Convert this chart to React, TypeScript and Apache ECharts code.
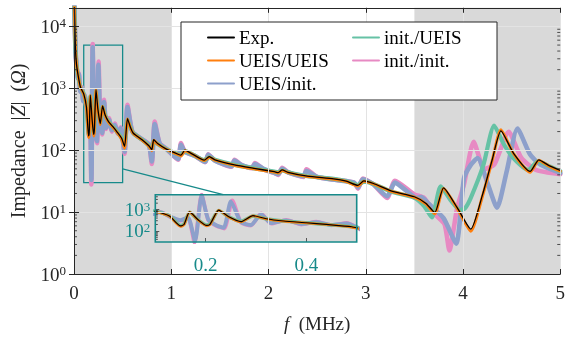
import React, { useEffect, useRef } from "react";
import * as echarts from "echarts";

// Impedance magnitude |Z| (Ohm) against frequency f (MHz), as [f, |Z|] pairs.
const expData: number[][] = [
  [0.003, 24000], [0.008, 11000], [0.015, 4300], [0.025, 2500], [0.04, 1700], [0.066, 1050],
  [0.1, 815], [0.128, 500], [0.15, 170], [0.157, 200], [0.168, 775], [0.185, 330], [0.202, 180],
  [0.209, 210], [0.226, 950], [0.245, 470], [0.27, 270], [0.294, 520], [0.32, 370], [0.355, 290],
  [0.4, 240], [0.44, 200], [0.49, 156], [0.52, 115], [0.55, 325], [0.58, 235], [0.61, 188],
  [0.7, 148], [0.77, 118], [0.8, 102], [0.82, 148], [0.86, 128], [0.95, 104], [1.07, 86],
  [1.1, 83], [1.14, 100], [1.2, 90], [1.34, 69], [1.39, 79], [1.45, 70], [1.65, 58], [1.85, 51],
  [2.06, 45], [2.1, 43.5], [2.14, 48], [2.2, 44], [2.4, 38], [2.67, 34.5], [2.8, 31.6], [2.92, 27],
  [2.98, 32], [3.08, 29], [3.26, 22], [3.5, 17.7], [3.62, 13.8], [3.71, 9.8], [3.8, 24.7],
  [3.94, 11.8], [4.08, 5.3], [4.2, 19], [4.3, 70], [4.39, 205], [4.52, 89], [4.69, 45.5],
  [4.78, 70], [4.88, 57], [5.0, 47],
];

const ueisUeisData: number[][] = [
  [0.003, 24000], [0.008, 11000], [0.015, 4300], [0.025, 2500], [0.04, 1700], [0.066, 1040],
  [0.1, 800], [0.128, 490], [0.15, 160], [0.157, 190], [0.168, 760], [0.185, 320], [0.202, 170],
  [0.209, 200], [0.226, 930], [0.245, 460], [0.27, 260], [0.294, 510], [0.32, 365], [0.355, 285],
  [0.4, 235], [0.44, 198], [0.49, 150], [0.52, 108], [0.55, 320], [0.58, 232], [0.61, 186],
  [0.7, 146], [0.77, 116], [0.8, 98], [0.82, 145], [0.86, 126], [0.95, 103], [1.07, 85],
  [1.1, 81], [1.14, 98], [1.2, 89], [1.34, 68], [1.39, 77], [1.45, 69], [1.65, 57], [1.85, 50],
  [2.06, 44.5], [2.1, 43], [2.14, 47], [2.2, 43.5], [2.4, 37.5], [2.67, 34], [2.8, 31.2],
  [2.92, 26.5], [2.98, 31.5], [3.08, 28.5], [3.26, 21.7], [3.5, 17.4], [3.62, 13.5], [3.71, 9.4],
  [3.8, 24], [3.94, 11.5], [4.08, 4.9], [4.2, 18], [4.3, 68], [4.39, 215], [4.52, 88],
  [4.69, 44], [4.78, 69], [4.88, 56], [5.0, 46],
];

const ueisInitData: number[][] = [
  [0.003, 24000], [0.008, 11000], [0.015, 4300], [0.025, 2400], [0.04, 1450], [0.05, 1700],
  [0.065, 880], [0.08, 1000], [0.095, 620], [0.11, 760], [0.13, 460], [0.15, 320], [0.165, 430],
  [0.179, 33], [0.192, 4600], [0.205, 350], [0.222, 180], [0.236, 140], [0.25, 2400], [0.27, 260],
  [0.29, 190], [0.31, 600], [0.33, 230], [0.36, 310], [0.39, 210], [0.42, 255], [0.45, 190],
  [0.48, 225], [0.52, 95], [0.55, 500], [0.6, 200], [0.7, 150], [0.77, 123], [0.8, 66],
  [0.83, 265], [0.88, 130], [0.95, 105], [1.07, 72], [1.1, 122], [1.14, 95], [1.25, 80],
  [1.35, 65], [1.38, 84], [1.45, 68], [1.62, 55], [1.65, 68], [1.72, 58], [1.83, 52], [1.86, 60],
  [1.95, 50], [2.06, 43], [2.1, 41], [2.14, 50], [2.2, 44], [2.36, 38], [2.39, 46], [2.5, 37],
  [2.7, 33], [2.88, 30], [2.92, 25], [2.97, 34], [3.08, 28], [3.22, 18], [3.3, 30], [3.45, 20],
  [3.52, 17], [3.57, 17.5], [3.65, 13.5], [3.8, 8], [3.93, 3.1], [4.01, 35], [4.08, 58],
  [4.15, 75], [4.25, 30], [4.35, 11.8], [4.45, 46], [4.56, 224], [4.69, 85], [4.8, 58], [5.0, 43],
];

const initUeisData: number[][] = [
  [0.003, 24000], [0.008, 11000], [0.015, 4300], [0.025, 2500], [0.04, 1650], [0.066, 1050],
  [0.1, 820], [0.128, 510], [0.15, 180], [0.157, 210], [0.168, 740], [0.185, 330], [0.202, 190],
  [0.209, 220], [0.226, 900], [0.245, 470], [0.27, 280], [0.294, 500], [0.32, 370], [0.355, 290],
  [0.4, 240], [0.44, 200], [0.49, 158], [0.52, 120], [0.55, 310], [0.58, 235], [0.61, 188],
  [0.7, 148], [0.77, 118], [0.8, 104], [0.82, 140], [0.86, 126], [0.95, 104], [1.07, 86],
  [1.1, 84], [1.14, 97], [1.2, 89], [1.34, 69], [1.39, 77], [1.45, 70], [1.65, 58], [1.85, 51],
  [2.06, 45], [2.1, 44], [2.14, 47], [2.2, 44], [2.4, 38], [2.67, 34.5], [2.8, 31.6], [2.92, 27.5],
  [2.98, 31], [3.08, 28.5], [3.26, 21.5], [3.5, 17], [3.6, 12.5], [3.68, 8.2], [3.77, 26],
  [3.88, 15], [3.97, 10.8], [4.02, 11.5], [4.08, 17], [4.21, 58], [4.32, 251], [4.42, 125],
  [4.52, 74], [4.67, 48], [4.77, 66], [4.9, 54], [5.0, 46],
];

const initInitData: number[][] = [
  [0.003, 24000], [0.008, 11000], [0.015, 4300], [0.025, 2400], [0.04, 1500], [0.05, 1750],
  [0.065, 900], [0.08, 1050], [0.095, 640], [0.11, 780], [0.13, 450], [0.15, 300], [0.165, 420],
  [0.178, 28], [0.192, 5200], [0.205, 330], [0.222, 170], [0.237, 130], [0.253, 2700], [0.27, 250],
  [0.29, 180], [0.31, 650], [0.33, 220], [0.36, 330], [0.39, 200], [0.42, 270], [0.45, 185],
  [0.48, 235], [0.52, 88], [0.55, 540], [0.6, 200], [0.7, 150], [0.77, 125], [0.8, 60],
  [0.83, 290], [0.88, 130], [0.95, 106], [1.07, 70], [1.1, 130], [1.14, 95], [1.25, 80],
  [1.35, 64], [1.38, 86], [1.45, 68], [1.62, 54], [1.65, 70], [1.72, 58], [1.83, 51], [1.86, 62],
  [1.95, 49], [2.06, 43], [2.1, 40], [2.14, 52], [2.2, 44], [2.36, 37], [2.39, 49], [2.5, 37],
  [2.7, 33], [2.88, 30], [2.92, 24], [2.97, 35], [3.08, 28], [3.22, 17], [3.3, 32], [3.5, 19.3],
  [3.6, 17], [3.71, 9.3], [3.81, 6.4], [3.86, 2.4], [3.94, 11.8], [4.01, 28], [4.11, 137],
  [4.22, 50], [4.32, 58], [4.47, 198], [4.6, 75], [4.75, 48], [5.0, 41],
];

// Axis ranges
const fRange = [0, 5];
const zRange = [1, 20000];
const shadedBands = [[0, 1], [3.5, 5]];
const zoomF = [0.1, 0.5];
const zoomZ = [30, 5000];
const insetTickF = [0.2, 0.4];
const insetTickZ = [100, 1000];

const FONT = "'Liberation Serif', 'Times New Roman', serif";
const INK = "#262626";
const TEAL = "#178a8a";
const GRAY = "#d9d9d9";

const seriesDefs = [
  { name: "init./init.", data: initInitData, color: "#e78ac3", width: 4.6 },
  { name: "UEIS/init.", data: ueisInitData, color: "#8da0cb", width: 4.6 },
  { name: "init./UEIS", data: initUeisData, color: "#66c2a5", width: 4.2 },
  { name: "UEIS/UEIS", data: ueisUeisData, color: "#ff7f0e", width: 3 },
  { name: "Exp.", data: expData, color: "#000000", width: 1.3 },
];

function minorValues(lo: number, hi: number): number[] {
  const out: number[] = [];
  for (let k = -1; k <= 5; k++) {
    for (let m = 2; m <= 9; m++) {
      const v = m * Math.pow(10, k);
      if (v > lo && v < hi) out.push(v);
    }
  }
  return out;
}

function powerLabel(v: number): string {
  const e = Math.log10(v);
  const r = Math.round(e);
  if (Math.abs(e - r) > 1e-6) return "";
  return `{b|10}{s|${r}}`;
}

function powerRich(color: string) {
  return {
    b: { fontFamily: FONT, fontSize: 19, color, lineHeight: 20 },
    s: { fontFamily: FONT, fontSize: 13, color, verticalAlign: "top", lineHeight: 12 },
  };
}

function tickRenderer(sides: "both" | "left", len: number, fLeft: number, fRight: number) {
  return (params: any, api: any) => {
    const v = api.value(1);
    const pl = api.coord([fLeft, v]);
    const children: any[] = [
      {
        type: "line",
        shape: { x1: pl[0], y1: pl[1], x2: pl[0] + len, y2: pl[1] },
        style: { stroke: INK, lineWidth: 0.8 },
      },
    ];
    if (sides === "both") {
      const pr = api.coord([fRight, v]);
      children.push({
        type: "line",
        shape: { x1: pr[0] - len, y1: pr[1], x2: pr[0], y2: pr[1] },
        style: { stroke: INK, lineWidth: 0.8 },
      });
    }
    return { type: "group", children };
  };
}

export default function App() {
  const ref = useRef<HTMLDivElement>(null);

  useEffect(() => {
    if (!ref.current) return;
    const chart = echarts.init(ref.current, null, { renderer: "svg" });

    const mainSeries = seriesDefs.map((s) => ({
      name: s.name,
      type: "line",
      data: s.data,
      xAxisIndex: 0,
      yAxisIndex: 0,
      showSymbol: false,
      symbol: "none",
      smooth: 0.2,
      z: 2,
      lineStyle: { color: s.color, width: s.width, cap: "round", join: "round" },
      itemStyle: { color: s.color },
      emphasis: { disabled: true },
    }));
    const insetSeries = seriesDefs.map((s) => ({
      name: s.name,
      type: "line",
      data: s.data,
      xAxisIndex: 2,
      yAxisIndex: 2,
      showSymbol: false,
      symbol: "none",
      smooth: 0.2,
      z: 2,
      lineStyle: { color: s.color, width: Math.max(1.2, s.width * 0.85), cap: "round", join: "round" },
      itemStyle: { color: s.color },
      emphasis: { disabled: true },
    }));

    const axisText = { fontFamily: FONT, fontSize: 19, color: INK };
    const legendBase = {
      orient: "vertical",
      top: 28,
      padding: 0,
      itemWidth: 26,
      itemHeight: 14,
      itemGap: 4,
      z: 6,
      itemStyle: { opacity: 0 },
      textStyle: { fontFamily: FONT, fontSize: 19, color: "#000" },
    };

    chart.setOption({
      animation: false,
      grid: [
        { left: 73.5, right: 4.5, top: 7.8, bottom: 60.7, containLabel: false },
        { left: 155.3, top: 194.7, width: 201.4, height: 47.3, containLabel: false },
      ],
      legend: [
        { ...legendBase, data: ["Exp.", "UEIS/UEIS", "UEIS/init."], left: 207 },
        { ...legendBase, data: ["init./UEIS", "init./init."], left: 352 },
      ],
      xAxis: [
        {
          type: "value",
          gridIndex: 0,
          min: fRange[0],
          max: fRange[1],
          interval: 1,
          z: 4,
          name: "{i|f}\u2002(MHz)",
          nameLocation: "middle",
          nameGap: 40,
          nameTextStyle: { ...axisText, rich: { i: { ...axisText, fontStyle: "italic" } } },
          axisLine: { show: true, lineStyle: { color: INK, width: 1 } },
          axisTick: { show: true, inside: true, length: 5, lineStyle: { color: INK } },
          axisLabel: { ...axisText, margin: 9 },
          splitLine: { show: true, lineStyle: { color: "#e3e3e3", width: 1 } },
        },
        {
          type: "value",
          gridIndex: 0,
          position: "top",
          min: fRange[0],
          max: fRange[1],
          interval: 1,
          z: 4,
          axisLine: { show: true, lineStyle: { color: INK, width: 1 } },
          axisTick: { show: true, inside: true, length: 5, lineStyle: { color: INK } },
          axisLabel: { show: false },
          splitLine: { show: false },
        },
        {
          type: "value",
          gridIndex: 1,
          min: zoomF[0],
          max: zoomF[1],
          z: 4,
          axisLine: { show: false },
          axisTick: { show: true, inside: true, length: 4, customValues: insetTickF, lineStyle: { color: "#555" } },
          axisLabel: {
            fontFamily: FONT,
            fontSize: 19,
            color: TEAL,
            margin: 13,
            customValues: insetTickF,
            formatter: (v: number) => v.toFixed(1),
          },
          splitLine: { show: false },
        },
      ],
      yAxis: [
        {
          type: "log",
          gridIndex: 0,
          logBase: 10,
          min: zRange[0],
          max: zRange[1],
          z: 4,
          name: "Impedance\u2002|{i|Z}|\u2002({i|Ω})",
          nameLocation: "middle",
          nameRotate: 90,
          nameGap: 46,
          nameTextStyle: { ...axisText, fontSize: 20, rich: { i: { ...axisText, fontSize: 20, fontStyle: "italic" } } },
          axisLine: { show: true, lineStyle: { color: INK, width: 1 } },
          axisTick: { show: true, inside: true, length: 5, lineStyle: { color: INK } },
          axisLabel: { margin: 8, formatter: powerLabel, rich: powerRich(INK) },
          splitLine: { show: true, lineStyle: { color: "#e3e3e3", width: 1 } },
        },
        {
          type: "log",
          gridIndex: 0,
          position: "right",
          logBase: 10,
          min: zRange[0],
          max: zRange[1],
          z: 4,
          axisLine: { show: true, lineStyle: { color: INK, width: 1 } },
          axisTick: { show: true, inside: true, length: 5, lineStyle: { color: INK } },
          axisLabel: { show: false },
          splitLine: { show: false },
        },
        {
          type: "log",
          gridIndex: 1,
          logBase: 10,
          min: zoomZ[0],
          max: zoomZ[1],
          z: 4,
          axisLine: { show: false },
          axisTick: { show: true, inside: true, length: 4, customValues: insetTickZ, lineStyle: { color: "#555" } },
          axisLabel: { margin: 5, customValues: insetTickZ, formatter: powerLabel, rich: powerRich(TEAL) },
          splitLine: { show: false },
        },
      ],
      series: [
        {
          name: "bands",
          type: "line",
          data: [],
          xAxisIndex: 0,
          yAxisIndex: 0,
          z: 1,
          silent: true,
          markArea: {
            silent: true,
            label: { show: false },
            itemStyle: { color: "rgba(0,0,0,0.15)" },
            data: shadedBands.map((b) => [{ xAxis: b[0] }, { xAxis: b[1] }]),
          },
        },
        {
          name: "zoom",
          type: "line",
          data: [],
          xAxisIndex: 0,
          yAxisIndex: 0,
          z: 5,
          silent: true,
          markArea: {
            silent: true,
            label: { show: false },
            itemStyle: { color: "rgba(0,0,0,0)", borderColor: TEAL, borderWidth: 1.3 },
            data: [[{ coord: [zoomF[0], zoomZ[0]] }, { coord: [zoomF[1], zoomZ[1]] }]],
          },
        },
        {
          name: "insetBg",
          type: "line",
          data: [],
          xAxisIndex: 2,
          yAxisIndex: 2,
          z: 1,
          silent: true,
          markArea: {
            silent: true,
            label: { show: false },
            itemStyle: { color: GRAY },
            data: [[{ xAxis: zoomF[0] }, { xAxis: zoomF[1] }]],
          },
        },
        {
          name: "minorTicks",
          type: "custom",
          xAxisIndex: 0,
          yAxisIndex: 0,
          z: 4,
          silent: true,
          data: minorValues(zRange[0], zRange[1]).map((v) => [fRange[0], v]),
          renderItem: tickRenderer("both", 3, fRange[0], fRange[1]),
        },
        {
          name: "insetMinorTicks",
          type: "custom",
          xAxisIndex: 2,
          yAxisIndex: 2,
          z: 4,
          silent: true,
          data: minorValues(zoomZ[0], zoomZ[1]).map((v) => [zoomF[0], v]),
          renderItem: tickRenderer("left", 2.5, zoomF[0], zoomF[1]),
        },
        ...mainSeries,
        ...insetSeries,
      ],
    });

    // Connector from the zoom box to the inset, legend frame and inset frame.
    const p1 = chart.convertToPixel({ xAxisIndex: 0, yAxisIndex: 0 }, [zoomF[1], 50]) as number[];
    const p2 = chart.convertToPixel({ xAxisIndex: 2, yAxisIndex: 2 }, [0.235, zoomZ[1]]) as number[];
    const i1 = chart.convertToPixel({ xAxisIndex: 2, yAxisIndex: 2 }, [zoomF[0], zoomZ[1]]) as number[];
    const i2 = chart.convertToPixel({ xAxisIndex: 2, yAxisIndex: 2 }, [zoomF[1], zoomZ[0]]) as number[];

    chart.setOption({
      graphic: [
        {
          type: "line",
          z: 5,
          silent: true,
          shape: { x1: p1[0], y1: p1[1], x2: p2[0], y2: p2[1] },
          style: { stroke: TEAL, lineWidth: 1.3 },
        },
        {
          type: "rect",
          z: 5,
          silent: true,
          shape: { x: i1[0], y: i1[1], width: i2[0] - i1[0], height: i2[1] - i1[1] },
          style: { fill: "none", stroke: TEAL, lineWidth: 1.6 },
        },
        {
          type: "rect",
          z: 5,
          silent: true,
          shape: { x: 181, y: 22, width: 316, height: 78 },
          style: { fill: "#ffffff", stroke: INK, lineWidth: 1 },
        },
      ],
    });

    return () => chart.dispose();
  }, []);

  return (
    <div
      ref={ref}
      style={{ position: "fixed", left: 0, top: 0, width: 568, height: 338 }}
    />
  );
}
